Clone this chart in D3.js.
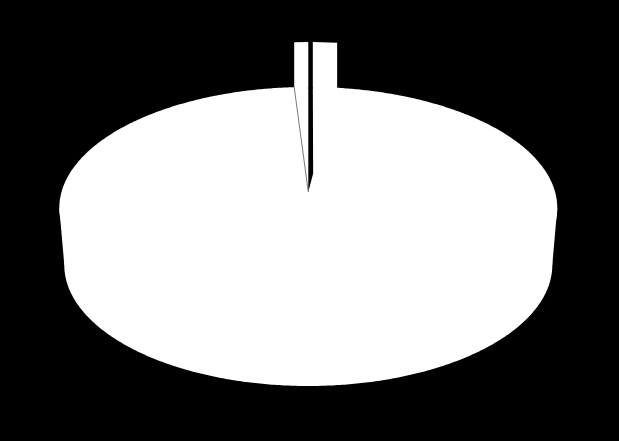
<!DOCTYPE html>
<html>
<head>
<meta charset="utf-8">
<script src="https://cdn.jsdelivr.net/npm/d3@7"></script>
<style>
html, body { margin: 0; padding: 0; background: #000; overflow: hidden; }
svg { display: block; }
</style>
</head>
<body>
<div id="chart"></div>
<script>
// Slices clockwise from 12 o'clock (percent)
var sliceNames = ["gap", "right", "main", "left"];
var sliceValues = [0.33, 1.78, 96.86, 1.03];
var sliceFills = ["#000", "#fff", "#fff", "#fff"];

var width = 619,
    height = 441,
    cx = 308.3,      // pie centre on the page
    cy = 192,
    tilt = -0.132,   // perspective of the tilted disc
    rx = 246.8,
    ry = 118.9,
    wallDrop = 57,   // depth of the pie side
    wallShrink = 0.98,
    raised = 45;     // how far the small slices stick up past the rim

var svg = d3.select("#chart")
    .append("svg")
    .attr("width", width)
    .attr("height", height);

svg.append("rect")
    .attr("width", width)
    .attr("height", height)
    .attr("fill", "#000");

var arcs = d3.pie().sort(null)(sliceValues);

// angle 0 is straight up, going clockwise, r is 0..1
function project(angle, r) {
    var u = Math.sin(angle) * r,
        v = -Math.cos(angle) * r,
        w = 1 + tilt * v;
    return [cx + rx * u / w, cy + ry * v / w];
}

function projectLow(angle) {
    var p = project(angle, 1);
    return [cx + (p[0] - cx) * wallShrink, p[1] + wallDrop];
}

var line = d3.line();
var sweep = d3.range(0, 720).map(d => d * Math.PI / 360);

// side of the pie: both rims plus the band between them
var sideA = Math.acos(tilt);
var band = [project(sideA, 1), projectLow(sideA), projectLow(-sideA), project(-sideA, 1)];

svg.append("path").attr("d", line(sweep.map(projectLow)) + "Z").attr("fill", "#fff");
svg.append("path").attr("d", line(band) + "Z").attr("fill", "#fff");

// whole top face first so no seams show between the white slices
svg.append("path").attr("d", line(sweep.map(d => project(d, 1))) + "Z").attr("fill", "#fff");

// raised small slices: columns above the rim
function columnShape(d) {
    var a = project(d.startAngle, 1),
        b = project(d.endAngle, 1);
    return [[a[0], a[1] + 2], [a[0], a[1] - raised], [b[0], b[1] - raised], [b[0], b[1] + 2]];
}

var small = arcs.filter((d, i) => sliceNames[i] != "main");

svg.selectAll("path.column")
    .data(small)
    .enter()
    .append("path")
    .attr("class", "column")
    .attr("d", d => line(columnShape(d)) + "Z")
    .attr("fill", d => sliceFills[d.index]);

// the gap keeps its width most of the way down, then comes to a point
var gap = arcs[0];
var gapRim = project(gap.endAngle, 1);
var gapShoulder = project(7.2 * Math.PI / 180, 0.16);
svg.append("path")
    .attr("d", line([[cx, cy], gapShoulder, gapRim, project(gap.startAngle, 1)]) + "Z")
    .attr("fill", "#000");

// thin outline between the left slice and the main slice
var leftEdge = arcs[3];
svg.append("path")
    .attr("d", line([project(leftEdge.startAngle, 1), [cx, cy]]))
    .attr("fill", "none")
    .attr("stroke", "#555")
    .attr("stroke-width", 0.8);
</script>
</body>
</html>
